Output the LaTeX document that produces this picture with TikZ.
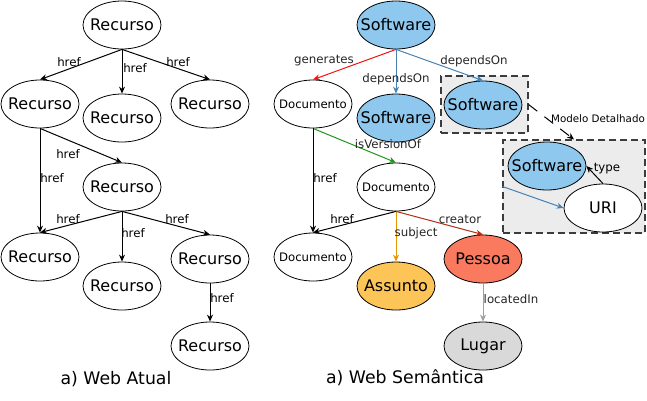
\documentclass[tikz,border=0pt]{standalone}
\usepackage{fontspec}
\setmainfont{DejaVu Sans}
\usetikzlibrary{shapes.geometric,arrows.meta}
\definecolor{swblue}{RGB}{142,200,238}
\definecolor{assunto}{RGB}{253,196,88}
\definecolor{pessoa}{RGB}{250,122,96}
\definecolor{lugar}{RGB}{217,217,217}
\definecolor{boxgray}{RGB}{236,236,236}
\definecolor{boxline}{RGB}{60,60,60}
\definecolor{cred}{RGB}{240,20,20}
\definecolor{cblue}{RGB}{70,130,180}
\definecolor{cgreen}{RGB}{30,150,30}
\definecolor{corange}{RGB}{230,150,0}
\definecolor{cbrown}{RGB}{180,45,20}
\definecolor{cgray}{RGB}{160,160,160}
\tikzset{
  res/.style={ellipse, draw=black, line width=0.8pt, minimum width=78pt, minimum height=48pt, inner sep=0pt, font=\fontsize{16}{19}\selectfont},
  doc/.style={res, font=\fontsize{11.7}{14}\selectfont},
  lbl/.style={font=\fontsize{11.8}{14}\selectfont, inner sep=0pt},
  arr/.style={-{Stealth[length=7pt,width=6pt]}, line width=1pt},
  dbox/.style={rectangle, draw=boxline, fill=boxgray, line width=1.1pt, dash pattern=on 7pt off 4pt, inner sep=0pt},
  captxt/.style={font=\fontsize{17.3}{20}\selectfont, inner sep=0pt}
}
\begin{document}
\begin{tikzpicture}[x=1pt,y=-1pt]
\useasboundingbox (0,0) rectangle (647,400);
% ---------- left: Web Atual ----------
\node[res] (r0) at (122,25) {\makebox[0pt]{Recurso}};
\node[res] (r1) at (40,104) {\makebox[0pt]{Recurso}};
\node[res] (r2) at (122,118) {\makebox[0pt]{Recurso}};
\node[res] (r3) at (210,104) {\makebox[0pt]{Recurso}};
\node[res] (r4) at (122,187) {\makebox[0pt]{Recurso}};
\node[res] (r5) at (40,257) {\makebox[0pt]{Recurso}};
\node[res] (r6) at (122,286) {\makebox[0pt]{Recurso}};
\node[res] (r7) at (210,259) {\makebox[0pt]{Recurso}};
\node[res] (r8) at (210,346) {\makebox[0pt]{Recurso}};
\draw[arr] (r0.south) -- (r1.north) node[lbl, at={(69,62)}] {href};
\draw[arr] (r0.south) -- (r2.north) node[lbl, at={(135,68)}] {href};
\draw[arr] (r0.south) -- (r3.north) node[lbl, at={(178,62)}] {href};
\draw[arr] (r1.south) -- (r4.north) node[lbl, at={(68,154)}] {href};
\draw[arr] (r1.south) -- (r5.north) node[lbl, at={(52,178)}] {href};
\draw[arr] (r4.south) -- (r5.north) node[lbl, at={(68,219)}] {href};
\draw[arr] (r4.south) -- (r6.north) node[lbl, at={(133,233)}] {href};
\draw[arr] (r4.south) -- (r7.north) node[lbl, at={(177,219)}] {href};
\draw[arr] (r7.south) -- (r8.north) node[lbl, at={(222,298)}] {href};
\node[captxt] (capl) at (116,379) {a) Web Atual};
% ---------- right: Web Semantica ----------
\node[dbox, minimum width=87pt, minimum height=57pt] (box1) at (484.5,104.5) {};
\node[dbox, minimum width=142pt, minimum height=93pt] (box2) at (574,186.5) {};
\node[res, fill=swblue] (s0) at (396,25) {\makebox[0pt]{Software}};
\node[doc] (d1) at (313,104) {\makebox[0pt]{Documento}};
\node[res, fill=swblue] (s1) at (396,118) {\makebox[0pt]{Software}};
\node[res, fill=swblue] (s2) at (483,105) {\makebox[0pt]{Software}};
\node[doc] (d2) at (396,187) {\makebox[0pt]{Documento}};
\node[doc] (d3) at (313,257) {\makebox[0pt]{Documento}};
\node[res, fill=assunto] (as) at (396,286) {\makebox[0pt]{Assunto}};
\node[res, fill=pessoa] (pe) at (483,259) {\makebox[0pt]{Pessoa}};
\node[res, fill=lugar] (lu) at (483,346) {\makebox[0pt]{Lugar}};
\node[res, fill=swblue] (s3) at (547,166) {\makebox[0pt]{Software}};
\node[res, fill=white] (uri) at (603,208) {\makebox[0pt]{URI}};
\draw[arr, cred] (s0.south) -- (d1.north) node[lbl, text=black!85, at={(324,61)}] {generates};
\draw[arr, cblue] (s0.south) -- (s1.north) node[lbl, text=black!85, at={(396,79)}] {dependsOn};
\draw[arr, cblue] (s0.south) -- (s2.north) node[lbl, text=black!85, at={(474,61)}] {dependsOn};
\draw[arr, cgreen] (d1.south) -- (d2.north) node[lbl, text=black!85, at={(388,144)}] {isVersionOf};
\draw[arr] (d1.south) -- (d3.north) node[lbl, at={(325,178)}] {href};
\draw[arr] (d2.south) -- (d3.north) node[lbl, at={(342,219)}] {href};
\draw[arr, corange] (d2.south) -- (as.north) node[lbl, text=black!85, at={(416,233)}] {subject};
\draw[arr, cbrown] (d2.south) -- (pe.north) node[lbl, text=black!85, at={(460,219)}] {creator};
\draw[arr, cgray] (pe.south) -- (lu.north) node[lbl, text=black!85, at={(511,299)}] {locatedIn};
\draw[arr] (uri.north) -- (s3.east) node[lbl, at={(607,169)}] {type};
\draw[arr, cblue] (box2.west) -- (uri.west);
\draw[arr, dash pattern=on 11pt off 9pt] (box1.east) -- (box2.north) node[lbl, font=\fontsize{10.3}{12}\selectfont, at={(598,119)}] {Modelo Detalhado};
\node[captxt] (capr) at (405,378) {a) Web Semântica};
\end{tikzpicture}
\end{document}
